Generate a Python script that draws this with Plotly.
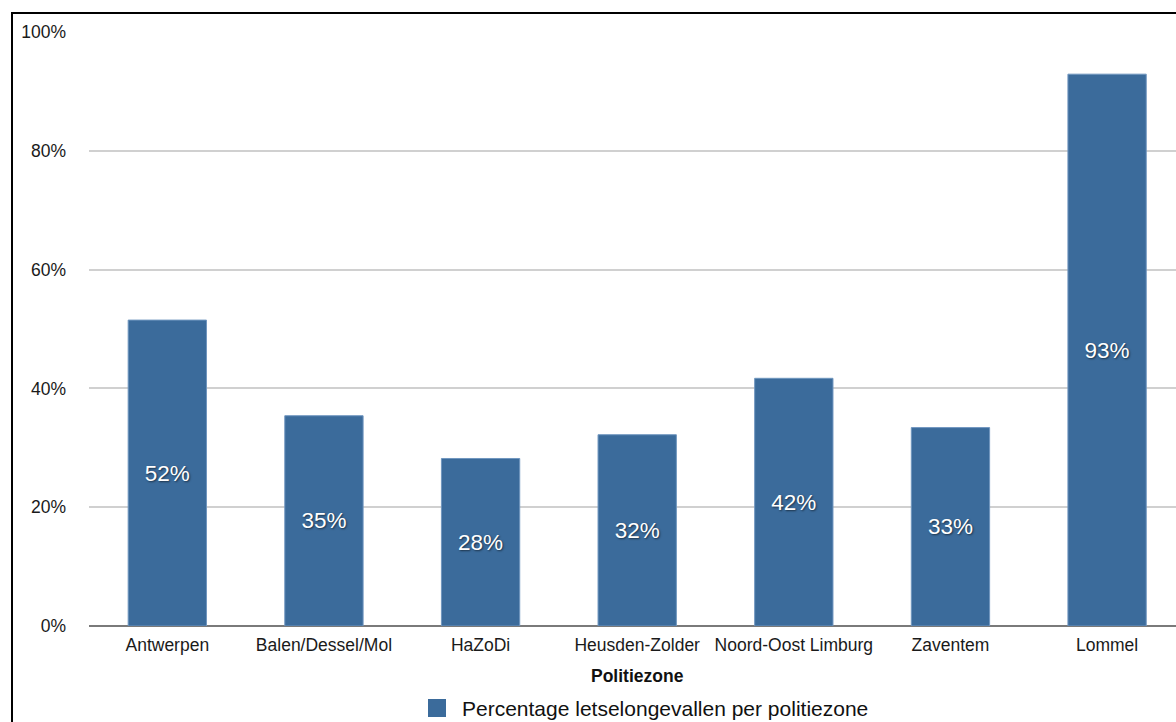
import plotly.graph_objects as go

# Police zones and share of injury accidents (%)
zones = ["Antwerpen", "Balen/Dessel/Mol", "HaZoDi", "Heusden-Zolder",
         "Noord-Oost Limburg", "Zaventem", "Lommel"]
percentages = [51.5, 35.4, 28.2, 32.2, 41.7, 33.4, 92.9]
y_ticks = [0, 20, 40, 60, 80, 100]
series_name = "Percentage letselongevallen per politiezone"
axis_title = "Politiezone"

BAR_COLOR = "#3b6b9b"
FONT = "Liberation Sans, Arial, Helvetica, sans-serif"

W, H = 1176, 722
ML, MT, MB = 89, 32, 96
plot_w = W - ML
plot_h = H - MT - MB
Y0 = H - MB  # pixel row of the baseline


def px_x(px):
    return (px - ML) / plot_w


def px_y(py):
    return (Y0 - py) / plot_h


fig = go.Figure()

fig.add_trace(go.Bar(
    x=zones,
    y=percentages,
    name=series_name,
    marker=dict(color=BAR_COLOR, line=dict(color="#7096bf", width=1)),
    texttemplate="%{y:.0f}%",
    textposition="inside",
    insidetextanchor="middle",
    textangle=0,
    textfont=dict(color="white", size=22.5, family=FONT,
                  shadow="1px 1px 2px rgba(0,0,0,0.55)"),
    showlegend=False,
    hoverinfo="skip",
))

fig.update_layout(
    width=W, height=H,
    margin=dict(l=ML, r=0, t=MT, b=MB, pad=0),
    paper_bgcolor="white",
    plot_bgcolor="white",
    bargap=0.5,
    font=dict(family=FONT, size=17.5, color="#222222"),
    showlegend=False,
    xaxis=dict(
        range=[-0.5, 6.44],
        showgrid=False,
        showline=False,
        ticks="",
        ticklabelstandoff=6,
        tickfont=dict(size=17.5, color="#1a1a1a"),
        fixedrange=True,
    ),
    yaxis=dict(
        range=[0, 100],
        tickvals=y_ticks,
        ticktext=[f"{v}%" for v in y_ticks],
        showgrid=True,
        gridcolor="#d0d0d0",
        gridwidth=2,
        zeroline=True,
        zerolinecolor="#7a7a7a",
        zerolinewidth=2,
        showline=False,
        ticks="",
        ticklabelstandoff=22,
        tickfont=dict(size=17.5, color="#1a1a1a"),
        fixedrange=True,
    ),
)

# axis title centred under the full category band
fig.add_annotation(
    text=f"<b>{axis_title}</b>",
    xref="paper", yref="paper",
    x=px_x(637), y=px_y(676),
    xanchor="center", yanchor="middle",
    showarrow=False,
    font=dict(size=17.5, color="#111111", family=FONT),
)

# legend: swatch + label
fig.add_shape(
    type="rect", xref="paper", yref="paper",
    x0=px_x(428), x1=px_x(446), y0=px_y(717), y1=px_y(699),
    line=dict(width=0), fillcolor=BAR_COLOR,
)
fig.add_annotation(
    text=series_name,
    xref="paper", yref="paper",
    x=px_x(460), y=px_y(708),
    xanchor="left", yanchor="middle",
    showarrow=False,
    font=dict(size=21, color="#111111", family=FONT),
)

# outer black frame
fig.add_shape(
    type="rect", xref="paper", yref="paper",
    x0=px_x(12), x1=1.05,
    y0=-0.3, y1=px_y(13),
    line=dict(color="black", width=2),
    fillcolor="rgba(0,0,0,0)",
    layer="above",
)

fig.write_html("out.html")
